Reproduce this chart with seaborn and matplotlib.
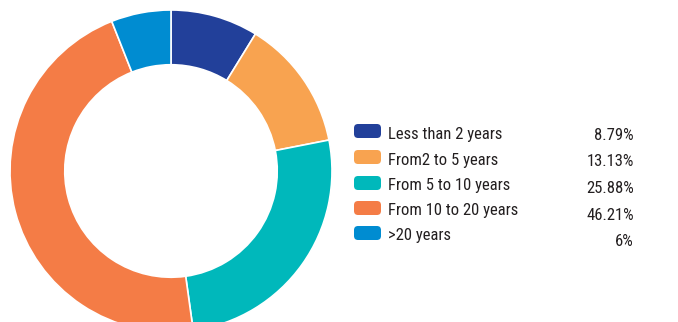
import matplotlib
matplotlib.use("Agg")
import matplotlib.pyplot as plt
from matplotlib.patches import FancyBboxPatch
from matplotlib import font_manager
import seaborn as sns

# Tenure distribution
categories = ["Less than 2 years", "From2 to 5 years", "From 5 to 10 years",
              "From 10 to 20 years", ">20 years"]
shares = [8.79, 13.13, 25.88, 46.21, 6]
share_labels = ["8.79%", "13.13%", "25.88%", "46.21%", "6%"]
colors = ["#22409A", "#F8A350", "#00B8BB", "#F47C46", "#008CD1"]

sns.set_theme(style="white")

# Prefer a narrow face for the legend text when one is available
installed = {f.name for f in font_manager.fontManager.ttflist}
narrow = [n for n in ["Roboto Condensed", "Liberation Sans Narrow",
                      "DejaVu Sans Condensed", "Open Sans Condensed"] if n in installed]
family = narrow[:1] + ["DejaVu Sans"]
plt.rcParams["font.family"] = family
stretch = "condensed"

W, H = 678, 322
fig = plt.figure(figsize=(W / 100, H / 100), dpi=100)
fig.patch.set_facecolor("white")

# Donut axes: centre at (171, 171) px from top-left, outer radius 161 px
cx, cy, r = 171, 171, 161
ax = fig.add_axes([(cx - r) / W, (H - cy - r) / H, 2 * r / W, 2 * r / H])
ax.pie(shares, colors=colors, startangle=90, counterclock=False, radius=1.0,
       wedgeprops=dict(width=0.34, edgecolor="white", linewidth=1.2))
ax.set_xlim(-1, 1)
ax.set_ylim(-1, 1)
ax.set_aspect("equal")
ax.axis("off")

# Legend with right-aligned share values
text_color = "#231F20"
label_baselines = [139, 165, 190, 215, 240]
value_baselines = [140, 166, 193, 220, 246]
patch_centers = [131, 157, 183, 208, 233]
for cat, lab, col, lb, vb, pc in zip(categories, share_labels, colors,
                                      label_baselines, value_baselines, patch_centers):
    box = FancyBboxPatch(((354) / W, (H - pc - 7) / H), 27 / W, 14 / H,
                         boxstyle="round,pad=0,rounding_size=0.006",
                         transform=fig.transFigure, facecolor=col,
                         edgecolor="none", mutation_aspect=W / H)
    fig.patches.append(box)
    fig.text(388 / W, (H - lb) / H, cat, ha="left", va="baseline",
             fontsize=12, color=text_color, fontstretch=stretch)
    fig.text(634 / W, (H - vb) / H, lab, ha="right", va="baseline",
             fontsize=12, color=text_color, fontstretch=stretch)

fig.savefig("out.png", dpi=100, facecolor="white")
